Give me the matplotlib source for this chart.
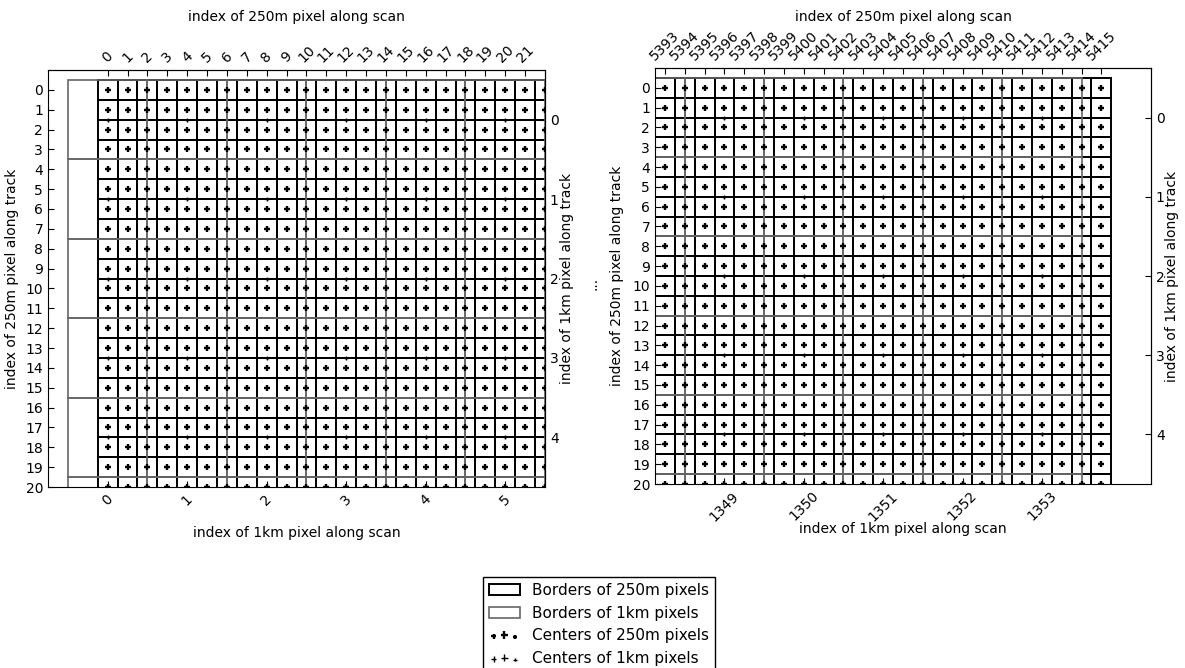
import matplotlib
matplotlib.use("Agg")
import matplotlib.pyplot as plt
import numpy as np
from matplotlib.patches import Rectangle
from matplotlib.legend_handler import HandlerPathCollection

# left panel: start of the scan
left_scan_250 = list(range(0, 23))
left_scan_1km = [0, 1, 2, 3, 4, 5]
left_top_labels = list(range(0, 22))
left_bottom_labels = [0, 1, 2, 3, 4, 5]

# right panel: end of the scan
right_scan_250 = list(range(5393, 5416))
right_scan_1km = [1348, 1349, 1350, 1351, 1352, 1353]
right_top_labels = list(range(5393, 5416))
right_bottom_labels = [1349, 1350, 1351, 1352, 1353]

# along track (same for both panels)
track_250 = list(range(0, 21))
track_1km = [0, 1, 2, 3, 4, 5]
track_1km_labels = [0, 1, 2, 3, 4]


def km_scan(k):
    # 1km pixel k along scan, in 250m pixel units
    return 4 * k


def km_track(j):
    # 1km pixel j along track, in 250m pixel units
    return 4 * j + 1.5


fig = plt.figure(figsize=(11.85, 6.68), dpi=100)
W, H = 1185.0, 668.0


def draw_panel(box, scan250, scan1km, top_labels, bottom_labels, xlim, lab):
    l, t, r, b = box
    ax = fig.add_axes([l / W, 1 - b / H, (r - l) / W, (b - t) / H])

    for i in scan250:
        for j in track_250:
            p250 = ax.add_patch(Rectangle((i - 0.5, j - 0.5), 1, 1, fc='none',
                                          ec='k', lw=1.4, zorder=1))
    for k in scan1km:
        for j in track_1km:
            p1km = ax.add_patch(Rectangle((km_scan(k) - 2, km_track(j) - 2), 4, 4,
                                          fc='none', ec='0.4', lw=1.2, zorder=2))

    xs, ys = np.meshgrid(scan250, track_250)
    c250 = ax.scatter(xs.ravel(), ys.ravel(), marker='+', s=24, lw=1.7,
                      c='k', zorder=3)
    kx, jy = np.meshgrid([km_scan(k) for k in scan1km],
                         [km_track(j) for j in track_1km])
    c1km = ax.scatter(kx.ravel(), jy.ravel(), marker='+', s=12, lw=1.0,
                      c='k', zorder=3)

    ax.set_xlim(xlim)
    ax.set_ylim(20, -1)

    ax.set_xticks([km_scan(k) for k in bottom_labels],
                  labels=[str(k) for k in bottom_labels], rotation=45)
    ax.set_yticks(track_250)
    ax.tick_params(direction='in', length=4, labelsize=10)
    ax.set_xlabel('index of 1km pixel along scan', fontsize=10)
    ax.xaxis.set_label_coords(0.5, lab[0], transform=ax.transAxes)
    ax.set_ylabel('index of 250m pixel along track', fontsize=10)
    ax.yaxis.set_label_coords(lab[1], 0.5, transform=ax.transAxes)

    secx = ax.secondary_xaxis('top')
    secx.set_xticks(top_labels, labels=[str(v) for v in top_labels], rotation=45)
    secx.tick_params(direction='in', length=4, labelsize=10)
    secx.set_xlabel('index of 250m pixel along scan', fontsize=10)
    secx.xaxis.set_label_coords(0.5, lab[2], transform=ax.transAxes)

    secy = ax.secondary_yaxis('right')
    secy.set_yticks([km_track(j) for j in track_1km_labels],
                    labels=[str(j) for j in track_1km_labels])
    secy.tick_params(direction='in', length=4, labelsize=10)
    secy.set_ylabel('index of 1km pixel along track', fontsize=10)
    secy.yaxis.set_label_coords(lab[3], 0.5, transform=ax.transAxes)
    return p250, p1km, c250, c1km


handles = draw_panel((48, 70, 545, 487), left_scan_250, left_scan_1km,
                     left_top_labels, left_bottom_labels, (-3, 22),
                     (-0.094, -0.058, 1.117, 1.030))
draw_panel((655, 68, 1151, 484), right_scan_250, right_scan_1km,
           right_top_labels, right_bottom_labels, (5392.5, 5417.5),
           (-0.091, -0.0625, 1.113, 1.028))

fig.text(593 / W, 1 - 283 / H, '...', rotation=90, ha='center', va='center',
         fontsize=10)

p250, p1km, c250, c1km = handles
leg = fig.legend([p250, p1km, c250, c1km],
                 ['Borders of 250m pixels', 'Borders of 1km pixels',
                  'Centers of 250m pixels', 'Centers of 1km pixels'],
                 loc='upper left', bbox_to_anchor=(483 / W, 1 - 577 / H),
                 borderaxespad=0, fontsize=11, scatterpoints=3,
                 fancybox=False, edgecolor='k', framealpha=1,
                 handler_map={c250: HandlerPathCollection(sizes=[14, 30, 6]),
                              c1km: HandlerPathCollection(sizes=[14, 30, 6])})
leg.get_frame().set_linewidth(1.0)

fig.savefig('out.png', dpi=100)
